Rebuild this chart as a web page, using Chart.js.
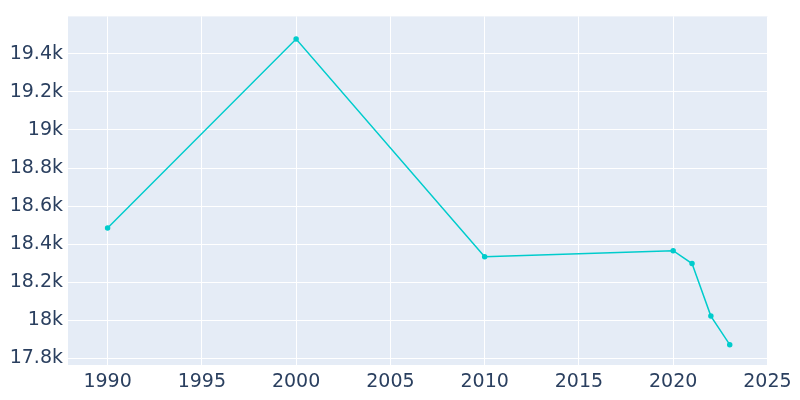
<!DOCTYPE html>
<html>
<head>
<script src="https://cdn.jsdelivr.net/npm/chart.js@4"></script>
<style>
  body { margin: 0; background: #fff; }
  #wrap { width: 800px; height: 400px; }
</style>
</head>
<body>
<div id="wrap"><canvas id="chart"></canvas></div>
<script>
const years = [1990, 2000, 2010, 2020, 2021, 2022, 2023];
const population = [18485, 19478, 18334, 18366, 18298, 18022, 17872];

const plotBg = {
  id: "plotBg",
  beforeDraw(chart) {
    const { ctx, chartArea: a } = chart;
    ctx.save();
    ctx.fillStyle = "#e5ecf6";
    ctx.fillRect(a.left, a.top, a.right - a.left, a.bottom - a.top);
    ctx.restore();
  }
};

const tickFont = { family: "DejaVu Sans", size: 19 };

new Chart(document.getElementById("chart"), {
  type: "line",
  data: {
    datasets: [{
      data: years.map((y, i) => ({ x: y, y: population[i] })),
      borderColor: "#00cccc",
      backgroundColor: "#00cccc",
      borderWidth: 1.5,
      pointRadius: 2,
      tension: 0
    }]
  },
  options: {
    responsive: true,
    maintainAspectRatio: false,
    animation: false,
    layout: { padding: { top: -9, right: 32 } },
    plugins: { legend: { display: false }, tooltip: { enabled: false } },
    scales: {
      x: {
        type: "linear",
        min: 1987.9,
        max: 2025.03,
        afterBuildTicks: s => { s.ticks = [1990, 1995, 2000, 2005, 2010, 2015, 2020, 2025].map(v => ({ value: v })); },
        ticks: { font: tickFont, color: "#2a3f5f", maxRotation: 0, padding: 6, callback: v => String(v) },
        grid: { color: "#ffffff", drawTicks: false, lineWidth: 1 },
        border: { display: false },
        afterFit: s => { s.height = 35; }
      },
      y: {
        min: 17765,
        max: 19597,
        afterBuildTicks: s => { s.ticks = [17800, 18000, 18200, 18400, 18600, 18800, 19000, 19200, 19400].map(v => ({ value: v })); },
        ticks: {
          font: tickFont, color: "#2a3f5f", padding: 5,
          callback: v => (v / 1000) + "k"
        },
        grid: { color: "#ffffff", drawTicks: false, lineWidth: 1 },
        border: { display: false },
        afterFit: s => { s.width = 68; }
      }
    }
  },
  plugins: [plotBg]
});
</script>
</body>
</html>
